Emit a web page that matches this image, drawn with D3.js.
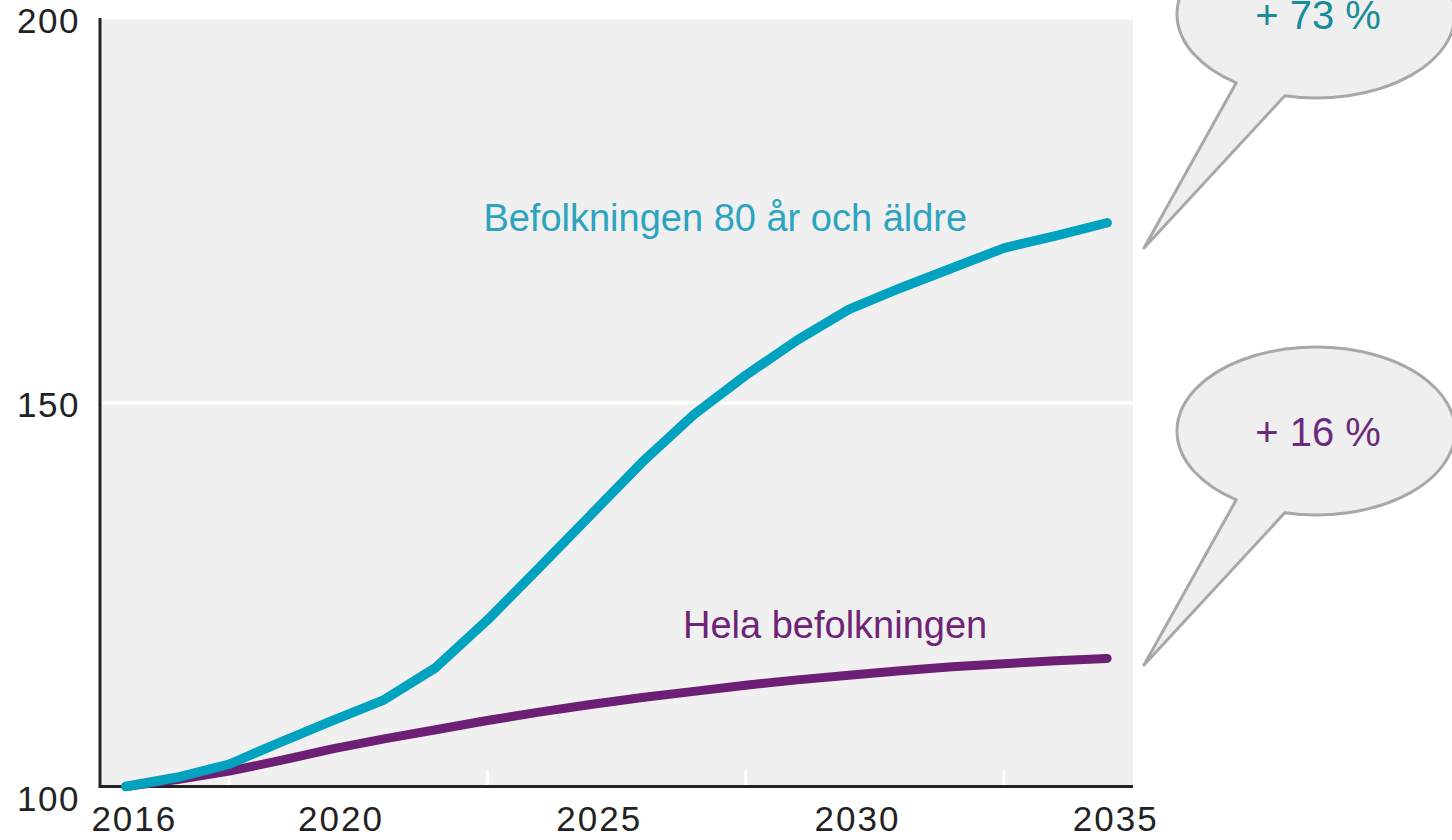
<!DOCTYPE html>
<html>
<head>
<meta charset="utf-8">
<script src="https://cdn.jsdelivr.net/npm/d3@7"></script>
<style>
  body { margin: 0; background: #fff; }
  text { font-family: "Liberation Sans", Arial, sans-serif; }
</style>
</head>
<body>
<svg id="chart" width="1452" height="840"></svg>
<script>
// data
const years = ["2016","2017","2018","2019","2020","2021","2022","2023","2024","2025",
               "2026","2027","2028","2029","2030","2031","2032","2033","2034","2035"];
const aged80 = [100, 101.2, 102.9, 105.8, 108.6, 111.3, 115.5, 121.7, 128.5, 135.4,
                142.3, 148.5, 153.6, 158.2, 162.2, 165.0, 167.6, 170.2, 171.8, 173.5];
const wholePop = [100, 100.9, 102.0, 103.4, 104.9, 106.2, 107.4, 108.6, 109.7, 110.7,
                  111.6, 112.4, 113.2, 113.9, 114.5, 115.1, 115.6, 116.0, 116.4, 116.7];
const yTicks = [100, 150, 200];
const xLabels = ["2016", "2020", "2025", "2030", "2035"];
const xMarks = ["2018", "2023", "2028", "2033"];
const seriesNames = ["Befolkningen 80 år och äldre", "Hela befolkningen"];
const callouts = ["+ 73 %", "+ 16 %"];

class IndexChart {

    margin = { top: 19.5, right: 319, bottom: 53.5, left: 100 }

    constructor(svg, width = 1452, height = 840) {
        this.svg = d3.select(svg);
        this.w = width - this.margin.left - this.margin.right;
        this.h = height - this.margin.top - this.margin.bottom;
    }

    draw() {
        const g = this.svg.append("g")
            .attr("transform", `translate(${this.margin.left}, ${this.margin.top})`);

        this.x = d3.scalePoint().domain(years).range([0, this.w]).padding(0.5);
        this.y = d3.scaleLinear().domain([100, 200]).range([this.h, 0]);

        g.append("rect")
            .attr("width", this.w).attr("height", this.h)
            .attr("fill", "#f0f0f0");

        // white grid line at 150
        g.append("line")
            .attr("x1", 0).attr("x2", this.w)
            .attr("y1", this.y(150)).attr("y2", this.y(150))
            .attr("stroke", "#fff").attr("stroke-width", 3);

        // small white ticks standing on the x axis
        g.selectAll(".xmark").data(xMarks).join("line")
            .attr("x1", d => this.x(d)).attr("x2", d => this.x(d))
            .attr("y1", this.h - 16).attr("y2", this.h)
            .attr("stroke", "#fff").attr("stroke-width", 3);

        const yAxis = g.append("g")
            .call(d3.axisLeft(this.y).tickValues(yTicks).tickSize(0).tickPadding(20));
        yAxis.select(".domain").attr("stroke", "#222").attr("stroke-width", 3)
            .attr("d", `M0,-1.5V${this.h + 1.5}`);
        yAxis.selectAll("text")
            .attr("font-size", 35).attr("fill", "#222")
            .attr("letter-spacing", 1.5)
            .attr("font-family", "Liberation Sans, Arial, sans-serif")
            .attr("dy", (d) => d == 100 ? "0.68em" : "0.38em");

        const xAxis = g.append("g")
            .attr("transform", `translate(0, ${this.h})`)
            .call(d3.axisBottom(this.x).tickValues(xLabels).tickSize(0).tickPadding(20));
        xAxis.select(".domain").attr("stroke", "#222").attr("stroke-width", 3)
            .attr("d", `M0,0H${this.w}`);
        xAxis.selectAll("text")
            .attr("font-size", 35).attr("fill", "#222")
            .attr("letter-spacing", 2)
            .attr("font-family", "Liberation Sans, Arial, sans-serif")
            .attr("dx", 8);

        const line = d3.line()
            .x((d, i) => this.x(years[i]))
            .y(d => this.y(d));

        const series = [
            { values: wholePop, color: "#6c1f74", width: 9 },
            { values: aged80, color: "#00a2bf", width: 9.5 }
        ];
        g.selectAll(".series").data(series).join("path")
            .attr("d", d => line(d.values))
            .attr("fill", "none")
            .attr("stroke", d => d.color)
            .attr("stroke-width", d => d.width)
            .attr("stroke-linecap", "round")
            .attr("stroke-linejoin", "round");

        // series labels
        g.append("text").text(seriesNames[0])
            .attr("x", this.x("2023") - 4).attr("y", this.y(172.4))
            .attr("font-size", 38).attr("fill", "#2ca4c0");
        g.append("text").text(seriesNames[1])
            .attr("x", this.x("2027") - 11).attr("y", this.y(119.4))
            .attr("font-size", 38).attr("fill", "#6e2476");

        this.bubble(1316, 14, callouts[0], "#178c9a");
        this.bubble(1316, 431, callouts[1], "#6c2a7c");
    }

    bubble(cx, cy, label, color) {
        const rx = 139, ry = 84;
        const pt = a => [cx + rx * Math.cos(a * Math.PI / 180), cy + ry * Math.sin(a * Math.PI / 180)];
        const a = pt(125), b = pt(103);
        const tip = [cx - 172, cy + 234];
        const d = `M${a[0]},${a[1]}L${tip[0]},${tip[1]}L${b[0]},${b[1]}` +
                  `A${rx},${ry} 0 1 0 ${a[0]},${a[1]}Z`;
        this.svg.append("path")
            .attr("d", d)
            .attr("fill", "#efefef")
            .attr("stroke", "#a8a8a8")
            .attr("stroke-width", 3)
            .attr("stroke-linejoin", "round");
        this.svg.append("text").text(label)
            .attr("x", cx + 2).attr("y", cy + 15)
            .attr("text-anchor", "middle")
            .attr("font-family", "Open Sans, sans-serif")
            .attr("font-size", 40)
            .attr("fill", color);
    }
}

new IndexChart("#chart").draw();
</script>
</body>
</html>
